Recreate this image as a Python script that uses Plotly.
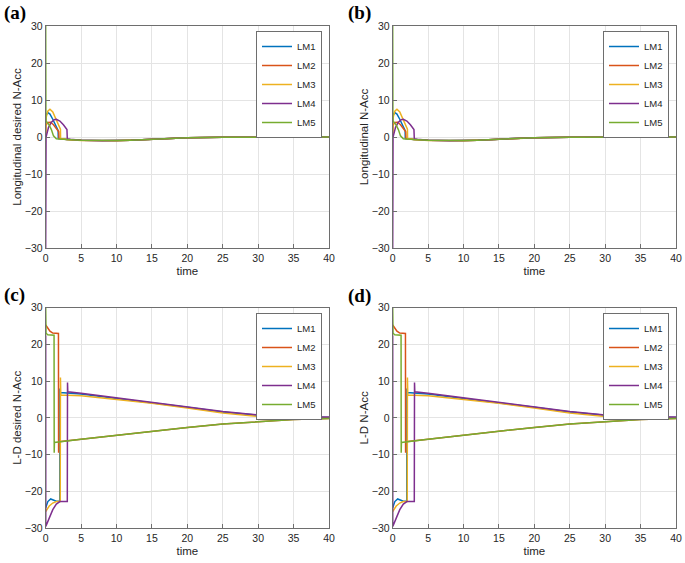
import plotly.graph_objects as go

# ---------------- data ----------------
series_names = ["LM1", "LM2", "LM3", "LM4", "LM5"]
series_colors = ["#0072BD", "#D95319", "#EDB120", "#7E2F8E", "#77AC30"]

x_ticks = [0, 5, 10, 15, 20, 25, 30, 35, 40]
y_ticks = [-30, -20, -10, 0, 10, 20, 30]

# Longitudinal N-Acc (panels a, b)
long_t_lm1 = [0, 0.02, 0.3, 0.6, 1.0, 1.4, 1.75, 1.78, 2.5, 3, 5, 8, 10, 12, 15, 18, 20, 25, 30, 40]
long_v_lm1 = [0, 5.8, 6.6, 6.2, 4.8, 3.2, 1.8, -0.4, -0.6, -0.7, -0.9, -1.0, -0.95, -0.85, -0.6, -0.35, -0.2, -0.05, 0, 0]
long_t_lm2 = [0, 0.02, 0.3, 0.7, 1.1, 1.5, 1.85, 1.88, 2.5, 3, 5, 8, 10, 12, 15, 18, 20, 25, 30, 40]
long_v_lm2 = [0, 3.2, 3.9, 4.0, 3.3, 2.2, 1.4, -0.4, -0.6, -0.7, -0.9, -1.0, -0.95, -0.85, -0.6, -0.35, -0.2, -0.05, 0, 0]
long_t_lm3 = [0, 0.02, 0.3, 0.6, 1.0, 1.4, 1.8, 2.08, 2.1, 2.5, 3, 5, 8, 10, 12, 15, 18, 20, 25, 30, 40]
long_v_lm3 = [0, 5.0, 7.0, 7.5, 6.8, 5.2, 3.4, 2.1, -0.4, -0.6, -0.7, -0.95, -1.05, -1.0, -0.9, -0.65, -0.4, -0.2, -0.05, 0, 0]
long_t_lm4 = [0, 0.05, 0.4, 0.8, 1.2, 1.5, 2.0, 2.5, 3.0, 3.05, 3.5, 5, 8, 10, 12, 15, 18, 20, 25, 30, 40]
long_v_lm4 = [-30, 0, 2.6, 4.0, 4.7, 4.8, 4.3, 3.3, 2.0, -0.5, -0.6, -0.85, -1.0, -0.95, -0.85, -0.6, -0.35, -0.2, -0.05, 0, 0]
long_t_lm5 = [0, 0.03, 0.2, 0.5, 0.8, 1.1, 1.5, 2, 3, 5, 8, 10, 12, 15, 18, 20, 25, 30, 40]
long_v_lm5 = [30, 4.2, 4.0, 3.2, 2.0, 0.3, -0.5, -0.6, -0.7, -0.9, -1.0, -0.95, -0.85, -0.6, -0.35, -0.2, -0.05, 0, 0]

# L-D N-Acc (panels c, d)
ld_t_lm1 = [0, 0.3, 0.7, 1.1, 1.5, 1.98, 2.0, 2.02, 3, 5, 10, 15, 20, 25, 30, 35, 40]
ld_v_lm1 = [-24.5, -22.8, -22.1, -22.3, -22.7, -22.7, 8.0, 6.9, 6.8, 6.5, 5.3, 4.2, 2.9, 1.6, 0.7, 0.2, 0.1]
ld_t_lm2 = [0, 0.3, 0.6, 1.0, 1.4, 1.8, 1.82, 1.85, 5, 10, 15, 20, 25, 30, 35, 40]
ld_v_lm2 = [25.3, 24.4, 23.6, 23.1, 23.0, 23.0, -9.5, -6.5, -5.8, -4.7, -3.6, -2.6, -1.7, -1.0, -0.45, -0.15]
ld_t_lm3 = [0, 0.5, 1.0, 1.5, 2.05, 2.08, 2.1, 2.13, 5, 10, 15, 20, 25, 30, 35, 40]
ld_v_lm3 = [-25.5, -24.0, -23.2, -22.8, -22.8, 11.0, 6.2, 6.2, 6.0, 5.1, 4.0, 2.7, 1.3, 0.4, 0.0, -0.1]
ld_t_lm4 = [0, 0.01, 0.5, 1.0, 1.5, 2.0, 3.05, 3.08, 3.12, 5, 10, 15, 20, 25, 30, 35, 40]
ld_v_lm4 = [22.5, -29.6, -27.3, -25.0, -23.5, -22.8, -22.8, 9.6, 7.1, 6.7, 5.4, 4.2, 2.9, 1.7, 0.8, 0.3, 0.2]
ld_t_lm5 = [0, 0.05, 0.3, 0.8, 1.18, 1.2, 1.23, 5, 10, 15, 20, 25, 30, 35, 40]
ld_v_lm5 = [30, 23.0, 22.6, 22.5, 22.5, -9.5, -6.7, -5.8, -4.7, -3.6, -2.6, -1.7, -1.0, -0.45, -0.15]

long_series = [(long_t_lm1, long_v_lm1), (long_t_lm2, long_v_lm2), (long_t_lm3, long_v_lm3),
               (long_t_lm4, long_v_lm4), (long_t_lm5, long_v_lm5)]
ld_series = [(ld_t_lm1, ld_v_lm1), (ld_t_lm2, ld_v_lm2), (ld_t_lm3, ld_v_lm3),
             (ld_t_lm4, ld_v_lm4), (ld_t_lm5, ld_v_lm5)]

panel_letters = ["(a)", "(b)", "(c)", "(d)"]
panel_ytitles = ["Longitudinal desired N-Acc", "Longitudinal N-Acc", "L-D desired N-Acc", "L-D N-Acc"]
x_title = "time"

# ---------------- layout geometry ----------------
W, H = 685, 563
FONT = "'Liberation Sans', Arial, sans-serif"
SERIF = "'Liberation Serif', 'Times New Roman', serif"
TXT = "#262626"
AXC = "#6e6e6e"

def px_x(p):
    return p / W

def px_y(p):
    return 1 - p / H

panels = [
    dict(x=[px_x(45.7), px_x(329)], y=[px_y(248), px_y(26)], data=long_series,
         leg=(px_x(322), px_y(31)), letter=(px_x(2), px_y(13))),
    dict(x=[px_x(392.7), px_x(676)], y=[px_y(248), px_y(26)], data=long_series,
         leg=(px_x(669), px_y(31)), letter=(px_x(346), px_y(13))),
    dict(x=[px_x(45.7), px_x(329)], y=[px_y(528), px_y(307.7)], data=ld_series,
         leg=(px_x(322), px_y(313)), letter=(px_x(2), px_y(295))),
    dict(x=[px_x(392.7), px_x(676)], y=[px_y(528), px_y(307.7)], data=ld_series,
         leg=(px_x(669), px_y(313)), letter=(px_x(346), px_y(296))),
]

fig = go.Figure()
layout = dict(
    template="none",
    width=W, height=H,
    margin=dict(l=0, r=0, t=0, b=0, pad=0, autoexpand=False),
    paper_bgcolor="white", plot_bgcolor="white",
    font=dict(family=FONT, color=TXT, size=10),
    annotations=[],
)

for i, p in enumerate(panels):
    k = "" if i == 0 else str(i + 1)
    legname = "legend" + k
    for (t, v), name, col in zip(p["data"], series_names, series_colors):
        fig.add_trace(go.Scatter(
            x=t, y=v, mode="lines", name=name,
            line=dict(color=col, width=1.5),
            xaxis="x" + k, yaxis="y" + k, legend=legname, showlegend=True,
        ))
    axis_common = dict(
        showline=True, mirror=True, linecolor=AXC, linewidth=1,
        ticks="inside", ticklen=4, tickcolor=AXC,
        showgrid=True, gridcolor="#e4e4e4", gridwidth=1,
        zeroline=False, automargin=False,
        tickfont=dict(family=FONT, size=10.5, color=TXT),
    )
    layout["xaxis" + k] = dict(
        axis_common, domain=p["x"], range=[0, 40], tickvals=x_ticks,
        anchor="y" + k,
        title=dict(text=x_title, font=dict(family=FONT, size=11.5, color=TXT), standoff=4),
    )
    layout["yaxis" + k] = dict(
        axis_common, domain=p["y"], range=[-30, 30], tickvals=y_ticks,
        anchor="x" + k,
        title=dict(text=panel_ytitles[i], font=dict(family=FONT, size=11.5, color=TXT), standoff=0),
    )
    layout[legname] = dict(
        x=p["leg"][0], y=p["leg"][1], xanchor="right", yanchor="top",
        xref="paper", yref="paper",
        bgcolor="white", bordercolor=AXC, borderwidth=1,
        font=dict(family=FONT, size=9.5, color=TXT),
        tracegroupgap=0, itemwidth=30,
    )
    layout["annotations"].append(dict(
        text="<b>" + panel_letters[i] + "</b>", xref="paper", yref="paper",
        x=p["letter"][0], y=p["letter"][1], xanchor="left", yanchor="middle",
        showarrow=False, font=dict(family=SERIF, size=19, color="black"),
    ))

fig.update_layout(**layout)
fig.write_html(
    "out.html",
    config={"displayModeBar": False},
    post_script="document.body.style.margin='0';document.body.style.overflow='hidden';",
)
